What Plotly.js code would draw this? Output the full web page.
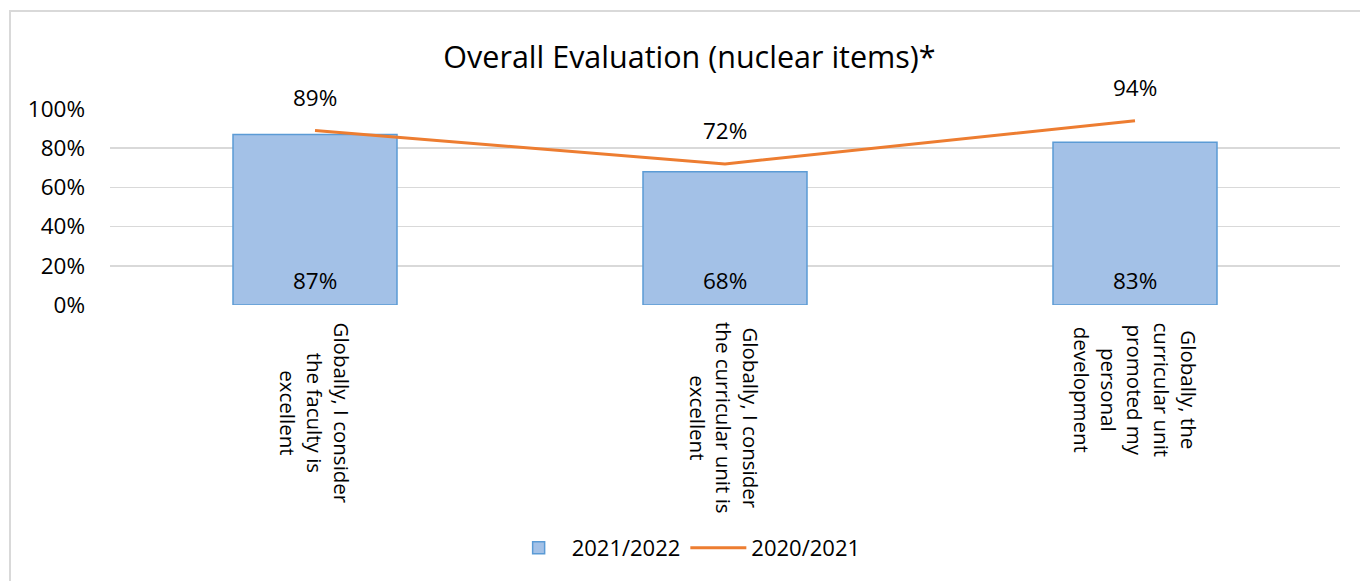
<!DOCTYPE html>
<html>
<head>
<meta charset="utf-8">
<script src="https://cdn.plot.ly/plotly-3.0.1.min.js"></script>
<style>
  html, body { margin: 0; padding: 0; background: #ffffff; }
  #wrap { position: relative; width: 1360px; height: 581px; overflow: hidden; }
  #chart { position: absolute; left: 0; top: 0; width: 1360px; height: 581px; }
  #frame { position: absolute; left: 9px; top: 10px; width: 1400px; height: 700px;
           border-top: 2px solid #d9d9d9; border-left: 2px solid #d9d9d9; pointer-events: none; }
</style>
</head>
<body>
<div id="wrap">
  <div id="chart"></div>
  <div id="frame"></div>
</div>
<script>
// ---- data ----
const categories = [
  "Globally, I consider<br>the faculty is<br>excellent",
  "Globally, I consider<br>the curricular unit is<br>excellent",
  "Globally, the<br>curricular unit<br>promoted my<br>personal<br>development"
];
const series2122 = [0.87, 0.68, 0.83];
const series2021 = [0.89, 0.72, 0.94];
const seriesNames = ["2021/2022", "2020/2021"];
const yTickVals = [0, 0.2, 0.4, 0.6, 0.8, 1.0];
const yTickText = ["0%", "20%", "40%", "60%", "80%", "100%"];
const titleText = "Overall Evaluation (nuclear items)*";

const FONT = "Open Sans, Noto Sans, sans-serif";
const xIdx = categories.map((_, i) => i);
const pct = v => Math.round(v * 100) + "%";

const traces = [
  {
    type: "bar",
    name: seriesNames[0],
    x: xIdx,
    y: series2122,
    width: 0.4,
    marker: { color: "#a3c1e7", line: { color: "#5b9bd5", width: 1.5 } },
    hoverinfo: "skip"
  },
  {
    type: "scatter",
    mode: "lines",
    name: seriesNames[1],
    x: xIdx,
    y: series2021,
    line: { color: "#ed7d31", width: 3 },
    hoverinfo: "skip"
  }
];

const annotations = [];
xIdx.forEach((i) => {
  annotations.push({
    x: i, y: 0, xref: "x", yref: "y", text: pct(series2122[i]),
    showarrow: false, yanchor: "middle", yshift: 25,
    font: { family: FONT, size: 22.5, color: "#000" }
  });
  annotations.push({
    x: i, y: series2021[i], xref: "x", yref: "y", text: pct(series2021[i]),
    showarrow: false, yanchor: "middle", yshift: 33,
    font: { family: FONT, size: 22.5, color: "#000" }
  });
  annotations.push({
    x: i, y: 0, xref: "x", yref: "paper", text: categories[i],
    showarrow: false, textangle: 90, yanchor: "top", xanchor: "center",
    align: "center", yshift: -15,
    font: { family: FONT, size: 20.5, color: "#000" }
  });
});

const layout = {
  width: 1360, height: 581,
  paper_bgcolor: "rgba(0,0,0,0)",
  plot_bgcolor: "#ffffff",
  margin: { l: 110, r: 20, t: 109, b: 276, pad: 0 },
  title: {
    text: titleText, x: 0.507, xanchor: "center", y: 0.902, yanchor: "middle",
    font: { family: FONT, size: 30.5, color: "#000" }
  },
  font: { family: FONT, size: 22, color: "#000" },
  xaxis: {
    range: [-0.5, 2.5], showticklabels: false, showgrid: false,
    zeroline: false, showline: false, ticks: "", fixedrange: true
  },
  yaxis: {
    range: [0, 1], tickvals: yTickVals, ticktext: yTickText,
    showgrid: true, gridcolor: "#d9d9d9", gridwidth: 1.5,
    zeroline: false, showline: false, ticks: "",
    ticklabelstandoff: 24,
    tickfont: { family: FONT, size: 22.5, color: "#000" }
  },
  showlegend: true,
  legend: {
    orientation: "h", x: 0.468, xanchor: "center", y: -1.24, yanchor: "middle",
    font: { family: FONT, size: 22, color: "#000" },
    itemwidth: 56, traceorder: "normal"
  },
  annotations: annotations
};

Plotly.newPlot("chart", traces, layout, { displayModeBar: false, staticPlot: true });
</script>
</body>
</html>
